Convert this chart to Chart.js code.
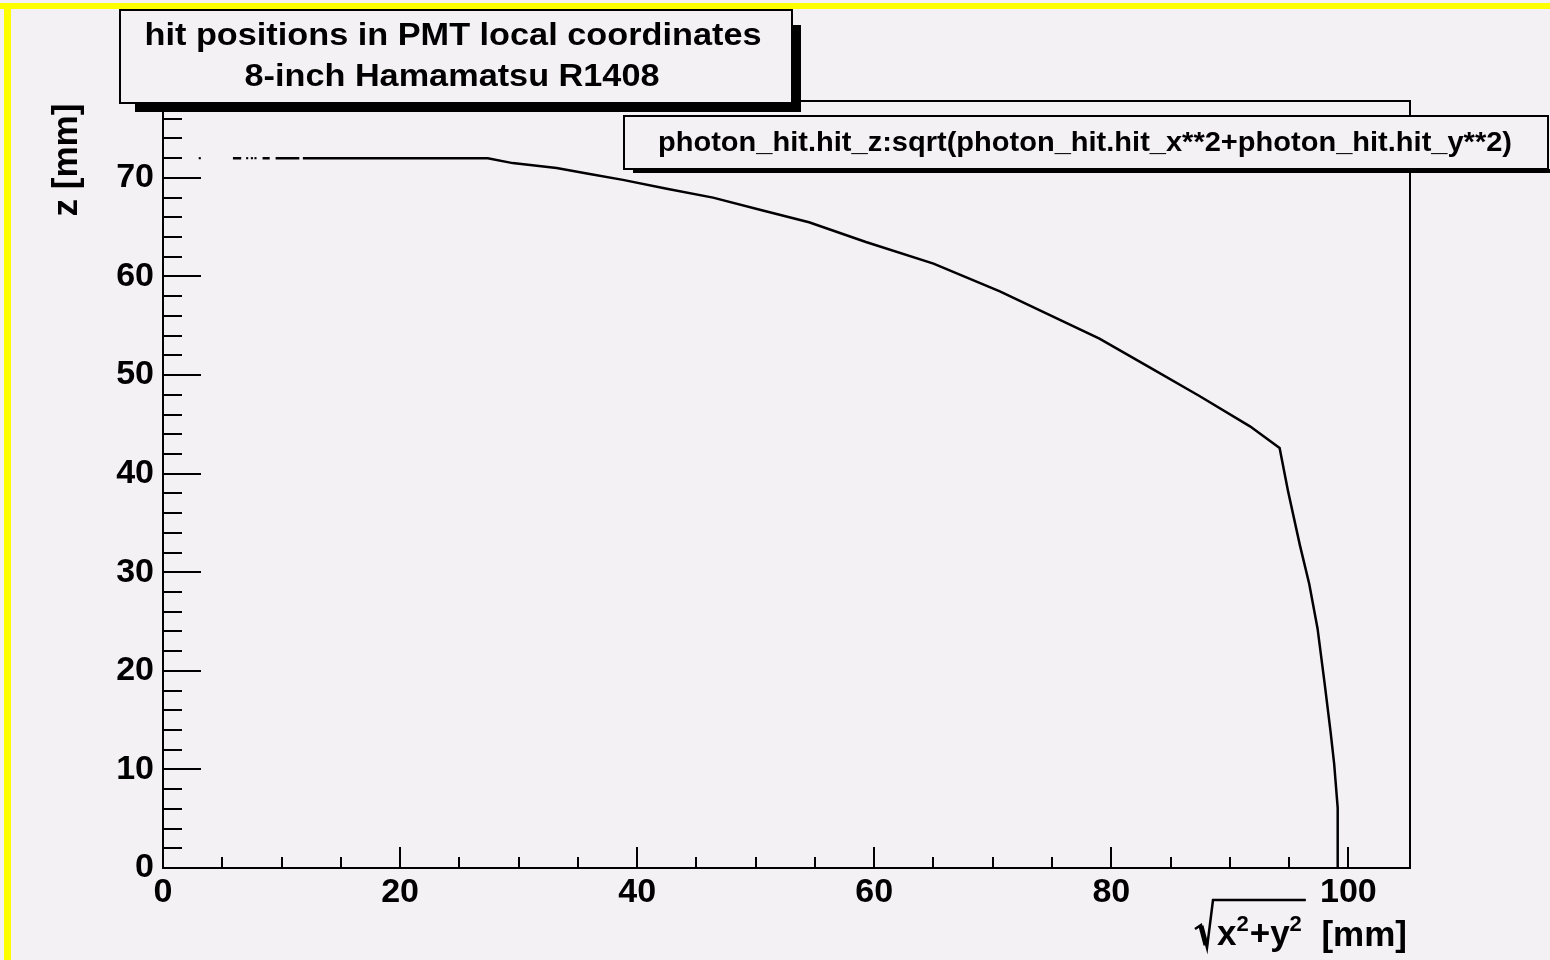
<!DOCTYPE html>
<html>
<head>
<meta charset="utf-8">
<script src="https://cdn.jsdelivr.net/npm/chart.js@4.4.0/dist/chart.umd.min.js"></script>
<style>
  html, body { margin: 0; padding: 0; background: #f4f1f5; }
  canvas { display: block; }
</style>
</head>
<body>
<canvas id="hitChart" width="1550" height="960"></canvas>
<script>
// hit radius sqrt(x^2+y^2) [mm] and hit z [mm]; null breaks the trace
const hitR = [5.9, 6.6, null, 8.4, 9.0, null, 9.5, 11.5, null, 11.8, 27.4, 29.5, 33.2, 36.0, 38.8, 42.5, 46.4, 50.6, 54.5, 59.3, 65.0, 70.6, 76.2, 79.0, 83.2, 87.4, 91.7, 94.2, 94.9, 95.9, 96.7, 97.4, 98.0, 98.5, 98.8, 99.1, 99.1];
const hitZ = [72.0, 72.0, null, 72.0, 72.0, null, 72.0, 72.0, null, 72.0, 72.0, 71.5, 71.0, 70.4, 69.8, 68.9, 68.0, 66.7, 65.5, 63.5, 61.3, 58.5, 55.3, 53.7, 50.8, 47.9, 44.8, 42.6, 38.3, 32.8, 28.8, 24.3, 18.7, 13.8, 10.6, 6.1, 0.0];

// single isolated hits near the axis
const dotR = [3.1, 7.1, 7.5, 7.8];
const dotZ = [72.0, 72.0, 72.0, 72.0];

const xTicks = [0, 20, 40, 60, 80, 100];
const yTicks = [0, 10, 20, 30, 40, 50, 60, 70];

const titleLines = ['hit positions in PMT local coordinates', '8-inch Hamamatsu R1408'];
const drawExpr = 'photon_hit.hit_z:sqrt(photon_hit.hit_x**2+photon_hit.hit_y**2)';

const BG = '#f4f1f5';
const FONT = '"Liberation Sans", Arial, sans-serif';

// draw text centred and squeezed/stretched to a given width (ROOT text is condensed)
function fitText(ctx, text, cx, cy, font, width) {
  ctx.save();
  ctx.font = font;
  const w = ctx.measureText(text).width;
  ctx.translate(cx, cy);
  ctx.scale(width / w, 1);
  ctx.textAlign = 'center';
  ctx.textBaseline = 'middle';
  ctx.fillStyle = '#000';
  ctx.fillText(text, 0, 0);
  ctx.restore();
}

const rootStyle = {
  id: 'rootStyle',
  beforeDraw(chart) {
    const ctx = chart.ctx;
    ctx.save();
    ctx.fillStyle = BG;
    ctx.fillRect(0, 0, chart.width, chart.height);
    ctx.restore();
  },
  afterDraw(chart) {
    const { ctx, chartArea: a, scales: { x, y } } = chart;
    ctx.save();
    ctx.strokeStyle = '#000';
    ctx.fillStyle = '#000';
    ctx.lineWidth = 2;

    // frame top + right
    ctx.beginPath();
    ctx.moveTo(a.left, a.top);
    ctx.lineTo(a.right, a.top);
    ctx.lineTo(a.right, a.bottom);
    ctx.stroke();

    // inward ticks, ROOT style
    ctx.beginPath();
    for (let v = 0; v <= 100; v += 5) {
      const px = Math.round(x.getPixelForValue(v));
      const len = v % 20 === 0 ? 21 : 11;
      ctx.moveTo(px, a.bottom);
      ctx.lineTo(px, a.bottom - len);
    }
    for (let v = 0; v <= y.max; v += 2) {
      const py = Math.round(y.getPixelForValue(v));
      const len = v % 10 === 0 ? 38 : 19;
      ctx.moveTo(a.left, py);
      ctx.lineTo(a.left + len, py);
    }
    ctx.stroke();

    // title box with shadow
    ctx.fillRect(135, 103, 666, 9);
    ctx.fillRect(792, 25, 9, 87);
    ctx.fillStyle = BG;
    ctx.fillRect(120, 10, 672, 93);
    ctx.strokeRect(120, 10, 672, 93);
    fitText(ctx, titleLines[0], 453, 36, 'bold 31px ' + FONT, 617);
    fitText(ctx, titleLines[1], 452, 77, 'bold 31px ' + FONT, 415);

    // draw expression box
    ctx.fillStyle = '#000';
    ctx.fillRect(633, 169, 920, 4);
    ctx.fillStyle = BG;
    ctx.fillRect(624, 116, 924, 53);
    ctx.strokeRect(624, 116, 924, 53);
    fitText(ctx, drawExpr, 1085, 144, 'bold 27px ' + FONT, 854);

    // y title
    ctx.save();
    ctx.translate(67, 160);
    ctx.rotate(-Math.PI / 2);
    ctx.font = 'bold 35px ' + FONT;
    ctx.textAlign = 'center';
    ctx.textBaseline = 'middle';
    ctx.fillStyle = '#000';
    ctx.fillText('z [mm]', 0, 0);
    ctx.restore();

    // x title: sqrt(x^2+y^2) [mm]
    ctx.fillStyle = '#000';
    ctx.textAlign = 'left';
    ctx.textBaseline = 'alphabetic';
    const base = 945;
    let cx = 1217;
    const big = 'bold 35px ' + FONT, sup = 'bold 22px ' + FONT;
    [['x', big, 0], ['2', sup, -14], ['+', big, 0], ['y', big, 0], ['2', sup, -14]].forEach(([t, f, dy]) => {
      ctx.font = f;
      ctx.fillText(t, cx, base + dy);
      cx += ctx.measureText(t).width + (f === sup ? 1 : 0);
    });
    const barEnd = cx + 3;
    ctx.lineWidth = 2.5;
    ctx.beginPath();
    ctx.moveTo(1195, 929);
    ctx.lineTo(1201, 925);
    ctx.lineTo(1207, 948);
    ctx.lineTo(1213, 900);
    ctx.lineTo(barEnd, 900);
    ctx.stroke();
    ctx.lineWidth = 5;
    ctx.beginPath();
    ctx.moveTo(1201, 926);
    ctx.lineTo(1206, 945);
    ctx.stroke();
    ctx.font = big;
    ctx.textAlign = 'right';
    ctx.fillText('[mm]', 1407, 946);

    // yellow canvas border
    ctx.fillStyle = '#ffff00';
    ctx.fillRect(0, 3, chart.width, 6);
    ctx.fillRect(4, 3, 7, chart.height - 3);
    ctx.restore();
  }
};

const curve = hitR.map((r, i) => ({ x: r, y: hitZ[i] }));
const dots = dotR.map((r, i) => ({ x: r, y: dotZ[i] }));

new Chart(document.getElementById('hitChart'), {
  type: 'scatter',
  data: {
    datasets: [{
      data: curve,
      showLine: true,
      spanGaps: false,
      tension: 0,
      borderColor: '#000',
      borderWidth: 2.5,
      pointRadius: 0,
      pointHoverRadius: 0
    }, {
      data: dots,
      pointStyle: 'rect',
      pointRadius: 1.5,
      backgroundColor: '#000',
      borderWidth: 0
    }]
  },
  options: {
    responsive: false,
    animation: false,
    layout: { padding: { top: 101, right: 140, bottom: 0, left: 0 } },
    scales: {
      x: {
        type: 'linear',
        min: 0,
        max: 105.2,
        grid: { display: false, drawTicks: false },
        border: { display: true, color: '#000', width: 2 },
        afterBuildTicks: s => { s.ticks = xTicks.map(v => ({ value: v })); },
        afterFit: s => { s.height = 92; },
        ticks: {
          color: '#000',
          padding: 4,
          maxRotation: 0,
          font: { family: FONT, size: 34, weight: 'bold' }
        }
      },
      y: {
        type: 'linear',
        min: 0,
        max: 77.8,
        grid: { display: false, drawTicks: false },
        border: { display: true, color: '#000', width: 2 },
        afterBuildTicks: s => { s.ticks = yTicks.map(v => ({ value: v })); },
        afterFit: s => { s.width = 163; },
        ticks: {
          color: '#000',
          padding: 9,
          font: { family: FONT, size: 34, weight: 'bold' }
        }
      }
    },
    plugins: {
      legend: { display: false },
      tooltip: { enabled: false },
      title: { display: false }
    }
  },
  plugins: [rootStyle]
});
</script>
</body>
</html>
